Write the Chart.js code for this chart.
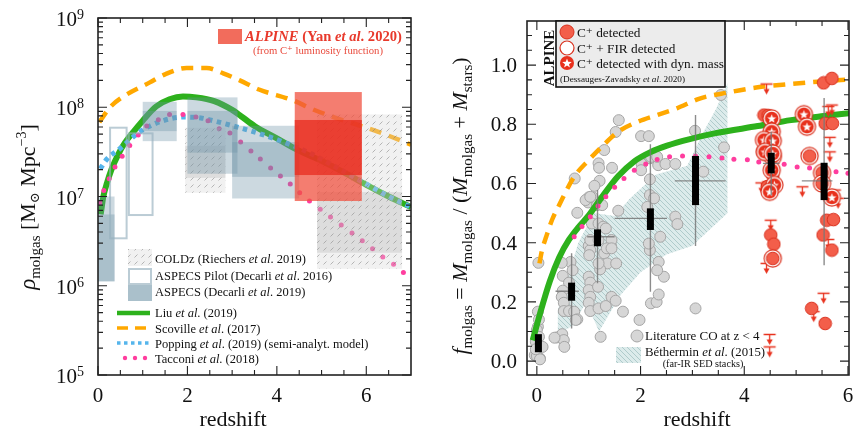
<!DOCTYPE html>
<html>
<head>
<meta charset="utf-8">
<script src="https://cdn.jsdelivr.net/npm/chart.js@4.4.1/dist/chart.umd.min.js"></script>
<style>
  html, body { margin: 0; padding: 0; background: #fff; }
  #wrap { position: relative; width: 858px; height: 432px; overflow: hidden; }
  #left { position: absolute; left: 0; top: 0; }
  #right { position: absolute; left: 430px; top: 0; }
</style>
</head>
<body>
<div id="wrap">
  <canvas id="left" width="430" height="432"></canvas>
  <canvas id="right" width="428" height="432"></canvas>
</div>
<script>
// ---------- left panel: cosmic molecular gas density ----------
const liuZ   = [0.06, 0.12, 0.2, 0.3, 0.45, 0.6, 0.8, 1.0, 1.3, 1.6, 1.9, 2.2, 2.6, 3.0, 3.2, 3.5, 4.0, 4.5, 5.0, 5.5, 6.0, 6.5, 7.0];
const liuRho = [6.3e6, 1.0e7, 1.41e7, 2.0e7, 2.95e7, 3.98e7, 5.37e7, 7.08e7, 1.02e8, 1.23e8, 1.32e8, 1.29e8, 1.17e8, 9.33e7, 7.94e7, 6.17e7, 4.47e7, 3.24e7, 2.51e7, 1.86e7, 1.35e7, 1.0e7, 7.6e6];

const scovilleZ   = [0.03, 0.27, 0.6, 1.16, 1.5, 1.98, 2.43, 2.8, 3.17, 3.6, 4.35, 4.8, 5.25, 6.0, 6.5, 7.0];
const scovilleRho = [6.8e7, 1.0e8, 1.35e8, 1.9e8, 2.34e8, 2.75e8, 2.75e8, 2.4e8, 2.0e8, 1.58e8, 1.2e8, 9.5e7, 7.8e7, 5.9e7, 4.8e7, 3.8e7];

const poppingZ   = [0.05, 0.2, 0.5, 0.95, 1.4, 1.9, 2.3, 2.65, 3.24, 3.7, 4.15, 4.5, 5.0, 5.5, 6.0, 6.5, 7.0];
const poppingRho = [2.04e7, 2.63e7, 3.47e7, 5.37e7, 6.92e7, 7.76e7, 7.59e7, 6.92e7, 5.75e7, 4.9e7, 4.07e7, 3.47e7, 2.63e7, 1.9e7, 1.38e7, 1.0e7, 7.6e6];

const tacconiZ   = [0.04, 0.13, 0.25, 0.38, 0.54, 0.71, 0.9, 1.09, 1.35, 1.6, 1.9, 2.19, 2.46, 2.71, 2.95, 3.19, 3.42, 3.63, 3.86, 4.08, 4.3, 4.51, 4.73, 4.97, 5.2, 5.44, 5.68, 5.91, 6.14, 6.37, 6.61, 6.83];
const tacconiRho = [8.5e6, 1.17e7, 1.58e7, 2.14e7, 2.82e7, 3.72e7, 4.9e7, 6.17e7, 7.24e7, 8.3e7, 8.3e7, 7.76e7, 7.08e7, 5.75e7, 5.13e7, 4.07e7, 3.24e7, 2.63e7, 2.09e7, 1.7e7, 1.38e7, 1.1e7, 8.9e6, 7.2e6, 5.9e6, 4.8e6, 3.9e6, 3.2e6, 2.6e6, 2.1e6, 1.74e6, 1.41e6];

// boxes: [z from, z to, rho low, rho high]
const aspecsBoxes = [
  [0.0, 0.37, 1.12e6, 1.0e7], [0.0, 0.37, 1.12e6, 6.3e6],
  [1.0, 1.76, 4.17e7, 1.15e8], [1.0, 1.76, 5.4e7, 9.1e7],
  [2.0, 3.12, 1.8e7, 1.29e8], [2.0, 3.12, 3.1e7, 9.1e7],
  [3.0, 4.5, 9.5e6, 6.2e7], [3.0, 4.5, 1.66e7, 4.07e7]
];
const aspecsPilotBoxes = [[0.27, 0.64, 3.4e6, 5.9e7], [0.69, 1.22, 6.2e6, 5.1e7]];
const coldzBoxes      = [[1.95, 2.85, 1.1e7, 5.9e7], [4.9, 6.8, 1.55e6, 8.3e7]];
const coldzInnerBoxes = [[1.95, 2.85, 1.62e7, 3.7e7], [4.9, 6.8, 2.34e6, 1.12e7]];
const alpineBox      = [4.4, 5.9, 8.9e6, 1.48e8];
const alpineInnerBox = [4.4, 5.9, 1.74e7, 7.2e7];

const leftTickLabels = [0, 2, 4, 6];
const leftDecades = [5, 6, 7, 8, 9];

// ---------- right panel: molecular gas fraction ----------
const litZ = [0.03, 0.02, 0.02, 0.0, 0.04, -0.02, 0.11, -0.04, 0.06, 0.0, 0.06, 0.04, -0.02,
  0.65, 0.48, 0.69, 0.5, 0.62, 0.5, 0.48, 0.52, 0.52, 0.62, 0.72, 0.78, 0.75, 0.39, 0.49, 0.52, 0.53, 0.34,
  1.0, 1.03, 1.01, 1.3, 1.43, 1.36, 1.53, 1.22, 1.19, 1.0, 1.03, 1.0, 1.03, 1.0, 1.03, 1.18, 1.19, 1.33, 1.44, 1.52, 1.23, 1.66, 1.98, 1.03, 1.19, 1.44, 1.35, 1.44, 1.06, 1.19, 1.28, 1.33,
  1.58, 1.52, 1.30, 1.19, 1.2, 1.45, 0.73, 1.21, 1.11, 1.0, 0.99, 1.08, 1.16, 1.26, 0.78, 1.57, 0.94, 1.03,
  2.01, 2.16, 2.18, 2.02, 2.01, 2.34, 2.48, 2.18, 2.67, 2.18, 2.26, 2.13, 2.67, 2.71, 2.38, 3.05, 3.21, 3.55, 3.61, 2.2, 2.32,
  2.2, 2.31, 2.35, 2.45, 2.35, 2.32, 2.18, 2.16, 3.06];
const litF = [0.332, 0.167, 0.116, 0.105, 0.082, 0.065, 0.048, 0.02, 0.009, 0.017, 0.006, 0.14, 0.04,
  0.335, 0.332, 0.307, 0.288, 0.265, 0.238, 0.217, 0.197, 0.169, 0.169, 0.167, 0.141, 0.139, 0.08, 0.091, 0.071, 0.048, 0.079,
  0.389, 0.375, 0.358, 0.364, 0.389, 0.33, 0.33, 0.31, 0.33, 0.285, 0.265, 0.24, 0.217, 0.197, 0.169, 0.251, 0.178, 0.186, 0.217, 0.204, 0.082, 0.167, 0.139, 0.409, 0.409, 0.409, 0.381, 0.381, 0.465, 0.465, 0.454, 0.448,
  0.814, 0.774, 0.713, 0.668, 0.653, 0.653, 0.617, 0.609, 0.592, 0.553, 0.536, 0.553, 0.527, 0.527, 0.501, 0.508, 0.544, 0.555,
  0.76, 0.76, 0.685, 0.666, 0.645, 0.662, 0.666, 0.614, 0.666, 0.561, 0.55, 0.521, 0.488, 0.463, 0.42, 0.778, 0.64, 0.899, 0.722, 0.69, 0.69,
  0.195, 0.2, 0.225, 0.285, 0.335, 0.307, 0.375, 0.397, 0.178];

const liuFZ = [-0.08, 0.06, 0.25, 0.43, 0.62, 0.8, 1.0, 1.25, 1.57, 1.88, 2.19, 2.51, 2.95, 3.45, 4.26, 4.9, 5.53, 6.05];
const liuF  = [0.07, 0.16, 0.27, 0.35, 0.41, 0.452, 0.492, 0.553, 0.625, 0.675, 0.706, 0.728, 0.75, 0.77, 0.794, 0.814, 0.828, 0.838];

const scovilleFZ = [0.05, 0.1, 0.18, 0.3, 0.43, 0.72, 1.0, 1.25, 1.57, 1.94, 2.32, 2.7, 3.14, 3.7, 4.26, 5.0, 6.05];
const scovilleF  = [0.33, 0.375, 0.42, 0.48, 0.527, 0.623, 0.679, 0.724, 0.775, 0.808, 0.831, 0.854, 0.887, 0.908, 0.925, 0.938, 0.952];

const tacconiFZ = [0.72, 0.87, 1.03, 1.18, 1.33, 1.5, 1.68, 1.88, 2.1, 2.32, 2.56, 2.81, 3.06, 3.32, 3.57, 3.8, 4.06, 4.28, 4.53, 4.77, 5.02, 5.26, 5.5, 5.77, 6.0];
const tacconiF  = [0.42, 0.455, 0.488, 0.524, 0.555, 0.587, 0.617, 0.645, 0.666, 0.681, 0.69, 0.693, 0.693, 0.69, 0.686, 0.682, 0.68, 0.673, 0.67, 0.665, 0.656, 0.652, 0.646, 0.64, 0.635];

const bethUpZ = [0.4, 0.8, 1.1, 1.5, 1.8, 2.3, 2.9, 3.2, 3.45, 3.68];
const bethUpF = [0.17, 0.4, 0.5, 0.49, 0.55, 0.63, 0.66, 0.77, 0.85, 0.94];
const bethLoZ = [0.4, 0.7, 0.95, 1.2, 1.6, 2.0, 2.5, 3.0, 3.68];
const bethLoF = [0.09, 0.12, 0.2, 0.1, 0.22, 0.3, 0.36, 0.39, 0.5];

// binned medians: black box = inner range, grey = full range
const binZ     = [0.03, 0.67, 1.17, 2.19, 3.06, 4.52, 5.54];
const binBoxLo = [0.03, 0.204, 0.388, 0.443, 0.527, 0.634, 0.544];
const binBoxHi = [0.091, 0.265, 0.445, 0.516, 0.693, 0.704, 0.67];
const binErrLo = [null, 0.11, 0.263, 0.234, 0.389, 0.56, 0.324];
const binErrHi = [null, 0.364, 0.578, 0.733, 0.831, 0.775, 0.889];
const binMid   = [null, 0.236, 0.42, 0.482, 0.609, 0.668, 0.609];
const binZLo   = [null, 0.36, 0.97, 1.5, 2.66, 4.36, 5.11];
const binZHi   = [null, 0.81, 1.5, 2.51, 3.64, 4.68, 5.7];

const detZ = [4.38, 4.46, 5.53, 5.69, 5.56, 5.7, 4.55, 4.51, 4.57, 5.59, 5.72, 5.52, 5.69, 5.3, 5.56, 4.45];
const detF = [0.831, 0.83, 0.94, 0.955, 0.803, 0.803, 0.628, 0.426, 0.395, 0.476, 0.478, 0.426, 0.375, 0.178, 0.127, 0.59];
const firZ = [4.55, 5.26, 5.5, 5.5, 4.4, 4.55];
const firF = [0.347, 0.693, 0.636, 0.6, 0.707, 0.69];
const dynZ = [4.53, 4.53, 4.38, 4.55, 4.4, 4.55, 4.53, 4.58, 4.49, 5.15, 5.21, 5.69];
const dynF = [0.82, 0.775, 0.747, 0.744, 0.707, 0.701, 0.645, 0.595, 0.572, 0.834, 0.792, 0.553];
const limZ = [4.43, 5.69, 5.65, 4.51, 4.43, 4.46, 5.12, 5.21, 5.53, 5.34, 5.62, 5.75, 5.81, 5.65, 4.49, 4.49, 4.33, 5.62];
const limF = [0.936, 0.865, 0.756, 0.476, 0.33, 0.606, 0.589, 0.703, 0.229, 0.167, 0.411, 0.578, 0.55, 0.707, 0.09, 0.048, 0.602, 0.86];

const rightTickLabels = [0, 2, 4, 6];
const rightYLabels = [0.0, 0.2, 0.4, 0.6, 0.8, 1.0];

// ---------- helpers ----------
const FONT = "'Liberation Serif', 'DejaVu Serif', serif";
const RED = '#f35e4a', RED_EDGE = '#d9301d';

function pts(xs, ys) { return xs.map((x, i) => ({ x: x, y: ys[i] })); }

function rich(ctx, x, y, parts, align) {
  let w = 0;
  parts.forEach(p => { ctx.font = (p[2] || '') + ' ' + p[1] + 'px ' + FONT; w += ctx.measureText(p[0]).width; });
  let cx = align === 'center' ? x - w / 2 : align === 'right' ? x - w : x;
  parts.forEach(p => {
    ctx.font = (p[2] || '') + ' ' + p[1] + 'px ' + FONT;
    ctx.fillText(p[0], cx, y + (p[3] || 0));
    cx += ctx.measureText(p[0]).width;
  });
}

function makeCanvas(w, h, draw) {
  const c = document.createElement('canvas');
  c.width = w; c.height = h;
  draw(c.getContext('2d'));
  return c;
}

function makePattern(size, bg, fg, draw) {
  const tile = makeCanvas(size, size, g => {
    g.fillStyle = bg; g.fillRect(0, 0, size, size);
    g.strokeStyle = fg; g.lineWidth = 1; draw(g, size);
  });
  return document.createElement('canvas').getContext('2d').createPattern(tile, 'repeat');
}

const coldzPattern = makePattern(7, 'rgba(215,215,215,0.35)', 'rgba(120,120,120,0.5)', g => {
  g.beginPath(); g.moveTo(1.5, 5.5); g.lineTo(4.5, 2.5); g.stroke();
});
const bethPattern = makePattern(5, 'rgba(208,228,228,0.75)', 'rgba(150,186,186,0.8)', (g, s) => {
  g.lineWidth = 0.8; g.beginPath(); g.moveTo(0, 0); g.lineTo(s, s); g.moveTo(-1, s - 1); g.lineTo(1, s + 1); g.moveTo(s - 1, -1); g.lineTo(s + 1, 1); g.stroke();
});

const ASPECS_FILL = 'rgba(110,145,165,0.35)';
const PILOT_STROKE = 'rgba(150,176,190,0.65)';

function starPath(g, cx, cy, r1, r2) {
  g.beginPath();
  for (let i = 0; i < 10; i++) {
    const r = i % 2 ? r2 : r1, a = -Math.PI / 2 + i * Math.PI / 5;
    g.lineTo(cx + r * Math.cos(a), cy + r * Math.sin(a));
  }
  g.closePath();
}

const discImg = makeCanvas(15, 15, g => {
  g.beginPath(); g.arc(7.5, 7.5, 6.3, 0, 2 * Math.PI);
  g.fillStyle = RED; g.fill(); g.lineWidth = 1; g.strokeStyle = RED_EDGE; g.stroke();
});
const ringImg = makeCanvas(21, 21, g => {
  g.beginPath(); g.arc(10.5, 10.5, 8.6, 0, 2 * Math.PI);
  g.fillStyle = '#fff'; g.fill(); g.lineWidth = 1.2; g.strokeStyle = RED_EDGE; g.stroke();
  g.beginPath(); g.arc(10.5, 10.5, 6.3, 0, 2 * Math.PI);
  g.fillStyle = RED; g.fill(); g.lineWidth = 1; g.stroke();
});
const starImg = makeCanvas(21, 21, g => {
  g.beginPath(); g.arc(10.5, 10.5, 8.6, 0, 2 * Math.PI);
  g.fillStyle = '#fff'; g.fill(); g.lineWidth = 1.2; g.strokeStyle = RED_EDGE; g.stroke();
  g.beginPath(); g.arc(10.5, 10.5, 6.8, 0, 2 * Math.PI);
  g.fillStyle = '#e8301c'; g.fill();
  starPath(g, 10.5, 11, 4.7, 2); g.fillStyle = '#fff'; g.fill();
});
const limitImg = makeCanvas(15, 27, g => {
  g.strokeStyle = '#e8321e'; g.lineWidth = 1.3;
  g.beginPath(); g.moveTo(1.5, 13.5); g.lineTo(13.5, 13.5); g.moveTo(7.5, 13.5); g.lineTo(7.5, 20); g.stroke();
  g.beginPath(); g.moveTo(4.5, 18.5); g.lineTo(10.5, 18.5); g.lineTo(7.5, 24); g.closePath();
  g.fillStyle = '#e8321e'; g.fill();
});

function drawFrame(chart, xMaj, xMin, yMaj, yMin) {
  const { ctx, chartArea: a, scales: { x, y } } = chart;
  ctx.save();
  ctx.strokeStyle = '#222'; ctx.lineWidth = 1.1;
  ctx.beginPath();
  const vt = (v, len) => { const p = x.getPixelForValue(v); ctx.moveTo(p, a.bottom); ctx.lineTo(p, a.bottom - len); ctx.moveTo(p, a.top); ctx.lineTo(p, a.top + len); };
  const ht = (v, len) => { const p = y.getPixelForValue(v); ctx.moveTo(a.left, p); ctx.lineTo(a.left + len, p); ctx.moveTo(a.right, p); ctx.lineTo(a.right - len, p); };
  xMaj.forEach(v => vt(v, 9)); xMin.forEach(v => vt(v, 5));
  yMaj.forEach(v => ht(v, 9)); yMin.forEach(v => ht(v, 5));
  ctx.stroke();
  ctx.lineWidth = 1.6;
  ctx.strokeRect(a.left, a.top, a.right - a.left, a.bottom - a.top);
  ctx.restore();
}

function rectFor(chart, b) {
  const { x, y } = chart.scales;
  const x0 = x.getPixelForValue(b[0]), x1 = x.getPixelForValue(b[1]);
  const y0 = y.getPixelForValue(b[3]), y1 = y.getPixelForValue(b[2]);
  return [x0, y0, x1 - x0, y1 - y0];
}

// ---------- left chart decorations ----------
const leftDecor = {
  id: 'leftDecor',
  afterDatasetsDraw(chart) {
    const { ctx, chartArea: a } = chart;
    ctx.save();
    ctx.beginPath(); ctx.rect(a.left, a.top, a.right - a.left, a.bottom - a.top); ctx.clip();
    coldzBoxes.forEach(b => { ctx.fillStyle = coldzPattern; ctx.fillRect(...rectFor(chart, b)); });
    coldzInnerBoxes.forEach(b => { ctx.fillStyle = 'rgba(150,150,150,0.22)'; ctx.fillRect(...rectFor(chart, b)); });
    aspecsBoxes.forEach(b => { ctx.fillStyle = ASPECS_FILL; ctx.fillRect(...rectFor(chart, b)); });
    ctx.strokeStyle = PILOT_STROKE; ctx.lineWidth = 2;
    aspecsPilotBoxes.forEach(b => { ctx.strokeRect(...rectFor(chart, b)); });
    ctx.fillStyle = 'rgba(240,82,64,0.75)'; ctx.fillRect(...rectFor(chart, alpineBox));
    ctx.fillStyle = 'rgba(232,40,28,0.72)'; ctx.fillRect(...rectFor(chart, alpineInnerBox));
    ctx.restore();
  },
  afterDraw(chart) {
    const { ctx, scales: { x, y } } = chart;
    const xMin = [], yMaj = [], yMin = [];
    for (let v = 0.5; v < 7; v += 0.5) if (v % 2 !== 0) xMin.push(v);
    leftDecades.forEach(d => { yMaj.push(Math.pow(10, d)); if (d < 9) for (let m = 2; m < 10; m++) yMin.push(m * Math.pow(10, d)); });
    drawFrame(chart, leftTickLabels, xMin, yMaj, yMin);

    ctx.save();
    ctx.fillStyle = '#111'; ctx.textBaseline = 'alphabetic';
    leftTickLabels.forEach(v => rich(ctx, x.getPixelForValue(v), 402, [[String(v), 21]], 'center'));
    leftDecades.forEach(d => {
      const py = y.getPixelForValue(Math.pow(10, d));
      rich(ctx, 84, py + 8, [['10', 21], [String(d), 14, '', -7]], 'right');
    });
    rich(ctx, 233, 426, [['redshift', 22]], 'center');

    // y title
    ctx.save();
    ctx.translate(35, 207); ctx.rotate(-Math.PI / 2);
    rich(ctx, 0, 0, [['ρ', 23, 'italic'], ['molgas', 15, '', 5], [' [M', 22], ['⊙', 13, '', 4], [' Mpc', 22], ['−3', 14, '', -9], [']', 22]], 'center');
    ctx.restore();

    // ALPINE legend (top right)
    ctx.fillStyle = 'rgba(240,82,64,0.85)'; ctx.fillRect(218, 29, 24, 15);
    ctx.fillStyle = '#e8392b';
    rich(ctx, 245, 41, [['ALPINE', 14.6, 'italic bold'], [' (Yan ', 14.6, 'bold'], ['et al', 14.6, 'italic bold'], ['. 2020)', 14.6, 'bold']]);
    ctx.fillStyle = '#e9493b';
    rich(ctx, 318, 54, [['(from C⁺ luminosity function)', 10.7]], 'center');

    // bottom legend
    ctx.fillStyle = coldzPattern; ctx.fillRect(128, 249, 24, 17);
    ctx.strokeStyle = PILOT_STROKE; ctx.lineWidth = 2; ctx.strokeRect(129, 269, 22, 15);
    ctx.fillStyle = ASPECS_FILL; ctx.fillRect(128, 285, 24, 16); ctx.fillRect(128, 285, 24, 16);
    ctx.lineWidth = 4.5; ctx.strokeStyle = '#2db11c';
    ctx.beginPath(); ctx.moveTo(117, 313); ctx.lineTo(150, 313); ctx.stroke();
    ctx.lineWidth = 3.5; ctx.strokeStyle = '#ffa800'; ctx.setLineDash([11, 7]);
    ctx.beginPath(); ctx.moveTo(117, 328); ctx.lineTo(150, 328); ctx.stroke();
    ctx.lineWidth = 3.5; ctx.strokeStyle = '#55b5ec'; ctx.setLineDash([3.5, 3.5]);
    ctx.beginPath(); ctx.moveTo(117, 343); ctx.lineTo(150, 343); ctx.stroke();
    ctx.setLineDash([]);
    ctx.fillStyle = '#ff3d9e';
    [125, 135, 145].forEach(px => { ctx.beginPath(); ctx.arc(px, 358, 2.2, 0, 2 * Math.PI); ctx.fill(); });

    ctx.fillStyle = '#111';
    const L = 12.5;
    rich(ctx, 155, 263, [['COLDz (Riechers ', L], ['et al', L, 'italic'], ['. 2019)', L]]);
    rich(ctx, 155, 280, [['ASPECS Pilot (Decarli ', L], ['et al', L, 'italic'], ['. 2016)', L]]);
    rich(ctx, 155, 296, [['ASPECS (Decarli ', L], ['et al', L, 'italic'], ['. 2019)', L]]);
    rich(ctx, 155, 317, [['Liu ', L], ['et al', L, 'italic'], ['. (2019)', L]]);
    rich(ctx, 155, 333, [['Scoville ', L], ['et al', L, 'italic'], ['. (2017)', L]]);
    rich(ctx, 155, 348, [['Popping ', L], ['et al', L, 'italic'], ['. (2019) (semi-analyt. model)', L]]);
    rich(ctx, 155, 363, [['Tacconi ', L], ['et al', L, 'italic'], ['. (2018)', L]]);
    ctx.restore();
  }
};

new Chart(document.getElementById('left'), {
  type: 'scatter',
  data: {
    datasets: [
      { label: 'Tacconi et al. (2018)', data: pts(tacconiZ, tacconiRho), showLine: false,
        pointRadius: 2.5, pointBackgroundColor: '#ff3d9e', pointBorderWidth: 0, order: 1 },
      { label: 'Popping et al. (2019)', data: pts(poppingZ, poppingRho), showLine: true,
        borderColor: '#55b5ec', borderWidth: 5, borderDash: [4.5, 4.5], pointRadius: 0,
        cubicInterpolationMode: 'monotone', order: 2 },
      { label: 'Scoville et al. (2017)', data: pts(scovilleZ, scovilleRho), showLine: true,
        borderColor: '#ffa800', borderWidth: 4.5, borderDash: [12, 8], pointRadius: 0,
        cubicInterpolationMode: 'monotone', order: 3 },
      { label: 'Liu et al. (2019)', data: pts(liuZ, liuRho), showLine: true,
        borderColor: '#2db11c', borderWidth: 6, pointRadius: 0,
        cubicInterpolationMode: 'monotone', order: 4 }
    ]
  },
  options: {
    responsive: false, animation: false, events: [],
    layout: { padding: { left: 98, right: 19, top: 18, bottom: 57 } },
    plugins: { legend: { display: false }, tooltip: { enabled: false } },
    scales: {
      x: { type: 'linear', min: 0, max: 7, display: false },
      y: { type: 'logarithmic', min: 1e5, max: 1e9, display: false }
    }
  },
  plugins: [leftDecor]
});

// ---------- right chart decorations ----------
const rightDecor = {
  id: 'rightDecor',
  afterDatasetsDraw(chart) {
    const { ctx, chartArea: a, scales: { x, y } } = chart;
    ctx.save();
    ctx.beginPath(); ctx.rect(a.left, a.top, a.right - a.left, a.bottom - a.top); ctx.clip();
    ctx.strokeStyle = 'rgba(120,120,120,0.85)'; ctx.lineWidth = 1.4;
    ctx.beginPath();
    binZ.forEach((z, i) => {
      if (binErrLo[i] === null) return;
      const px = x.getPixelForValue(z);
      ctx.moveTo(px, y.getPixelForValue(binErrLo[i])); ctx.lineTo(px, y.getPixelForValue(binErrHi[i]));
      const py = y.getPixelForValue(binMid[i]);
      ctx.moveTo(x.getPixelForValue(binZLo[i]), py); ctx.lineTo(x.getPixelForValue(binZHi[i]), py);
    });
    ctx.stroke();
    ctx.fillStyle = '#000';
    binZ.forEach((z, i) => {
      const px = x.getPixelForValue(z);
      const y0 = y.getPixelForValue(binBoxHi[i]), y1 = y.getPixelForValue(binBoxLo[i]);
      ctx.fillRect(px - 3.5, y0, 7, y1 - y0);
    });
    ctx.restore();
  },
  afterDraw(chart) {
    const { ctx, scales: { x, y } } = chart;
    const xMin = [], yMin = [];
    for (let v = 0.5; v < 6; v += 0.5) if (v % 2 !== 0) xMin.push(v);
    for (let k = 1; k <= 22; k++) { if (k % 4 !== 0) yMin.push(k * 0.05); }
    drawFrame(chart, rightTickLabels, xMin, rightYLabels, yMin);

    ctx.save();
    ctx.fillStyle = '#111'; ctx.textBaseline = 'alphabetic';
    rightTickLabels.forEach(v => rich(ctx, x.getPixelForValue(v), 402, [[String(v), 21]], 'center'));
    rightYLabels.forEach(v => rich(ctx, 87, y.getPixelForValue(v) + 7, [[v.toFixed(1), 21]], 'right'));
    rich(ctx, 267, 426, [['redshift', 22]], 'center');

    ctx.save();
    ctx.translate(37, 206); ctx.rotate(-Math.PI / 2);
    rich(ctx, 0, 0, [['f', 22, 'italic'], ['molgas', 15, '', 5], [' = ', 22], ['M', 22, 'italic'], ['molgas', 15, '', 5],
      [' / (', 22], ['M', 22, 'italic'], ['molgas', 15, '', 5], [' + ', 22], ['M', 22, 'italic'], ['stars', 15, '', 5], [')', 22]], 'center');
    ctx.restore();

    // ALPINE legend box
    ctx.fillStyle = '#ececec'; ctx.fillRect(126, 21, 169, 66);
    ctx.strokeStyle = '#111'; ctx.lineWidth = 1.6; ctx.strokeRect(126, 21, 169, 66);
    ctx.save();
    ctx.translate(124, 58); ctx.rotate(-Math.PI / 2);
    ctx.fillStyle = '#111';
    rich(ctx, 0, 0, [['ALPINE', 15, 'bold']], 'center');
    ctx.restore();
    ctx.beginPath(); ctx.arc(137, 32, 7, 0, 2 * Math.PI); ctx.fillStyle = RED; ctx.fill();
    ctx.lineWidth = 1; ctx.strokeStyle = RED_EDGE; ctx.stroke();
    ctx.beginPath(); ctx.arc(137, 48, 7, 0, 2 * Math.PI); ctx.fillStyle = '#fff'; ctx.fill();
    ctx.lineWidth = 1.2; ctx.strokeStyle = RED_EDGE; ctx.stroke();
    ctx.beginPath(); ctx.arc(137, 63, 7, 0, 2 * Math.PI); ctx.fillStyle = '#e8301c'; ctx.fill();
    starPath(ctx, 137, 63.5, 5, 2.1); ctx.fillStyle = '#fff'; ctx.fill();
    ctx.fillStyle = '#111';
    const R = 13.3;
    rich(ctx, 147, 37, [['C⁺ detected', R]]);
    rich(ctx, 147, 53, [['C⁺ + FIR detected', R]]);
    rich(ctx, 147, 68, [['C⁺ detected with dyn. mass', R]]);
    rich(ctx, 130, 82, [['(Dessauges-Zavadsky ', 9.2], ['et al', 9.2, 'italic'], ['. 2020)', 9.2]]);

    // bottom legend
    ctx.beginPath(); ctx.arc(207, 336, 6, 0, 2 * Math.PI);
    ctx.fillStyle = '#d6d6d6'; ctx.fill(); ctx.lineWidth = 1; ctx.strokeStyle = '#a5a5a5'; ctx.stroke();
    ctx.fillStyle = bethPattern; ctx.fillRect(186, 347, 25, 16);
    ctx.fillStyle = '#111';
    rich(ctx, 215, 340, [['Literature CO at z < 4', 13]]);
    rich(ctx, 215, 356, [['Béthermin ', 12.8], ['et al', 12.8, 'italic'], ['. (2015)', 12.8]]);
    rich(ctx, 273, 367, [['(far-IR SED stacks)', 10.2]], 'center');
    ctx.restore();
  }
};

new Chart(document.getElementById('right'), {
  type: 'scatter',
  data: {
    datasets: [
      { label: 'Béthermin upper', data: pts(bethUpZ, bethUpF), showLine: true, borderWidth: 0,
        pointRadius: 0, fill: false, order: 12 },
      { label: 'Béthermin et al. (2015)', data: pts(bethLoZ, bethLoF), showLine: true, borderWidth: 0,
        pointRadius: 0, fill: '-1', backgroundColor: bethPattern, order: 11 },
      { label: 'Literature CO at z < 4', data: pts(litZ, litF), showLine: false, pointRadius: 5.5,
        pointBackgroundColor: '#d6d6d6', pointBorderColor: '#a5a5a5', pointBorderWidth: 1, order: 10 },
      { label: 'Liu et al. (2019)', data: pts(liuFZ, liuF), showLine: true, borderColor: '#2db11c',
        borderWidth: 6, pointRadius: 0, cubicInterpolationMode: 'monotone', order: 9 },
      { label: 'Tacconi et al. (2018)', data: pts(tacconiFZ, tacconiF), showLine: false, pointRadius: 2.5,
        pointBackgroundColor: '#ff3d9e', pointBorderWidth: 0, order: 8 },
      { label: 'Scoville et al. (2017)', data: pts(scovilleFZ, scovilleF), showLine: true, borderColor: '#ffa800',
        borderWidth: 4.5, borderDash: [12, 8], pointRadius: 0, cubicInterpolationMode: 'monotone', order: 7 },
      { label: 'upper limits', data: pts(limZ, limF), showLine: false, pointStyle: limitImg, pointRadius: 6, order: 4 },
      { label: 'C+ detected', data: pts(detZ, detF), showLine: false, pointStyle: discImg, pointRadius: 6, order: 3 },
      { label: 'C+ + FIR detected', data: pts(firZ, firF), showLine: false, pointStyle: ringImg, pointRadius: 8, order: 2 },
      { label: 'C+ detected with dyn. mass', data: pts(dynZ, dynF), showLine: false, pointStyle: starImg, pointRadius: 8, order: 1 }
    ]
  },
  options: {
    responsive: false, animation: false, events: [],
    layout: { padding: { left: 97, right: 2, top: 21, bottom: 57 } },
    plugins: { legend: { display: false }, tooltip: { enabled: false } },
    scales: {
      x: { type: 'linear', min: -0.19, max: 6.02, display: false },
      y: { type: 'linear', min: -0.047, max: 1.149, display: false }
    }
  },
  plugins: [rightDecor]
});
</script>
</body>
</html>
